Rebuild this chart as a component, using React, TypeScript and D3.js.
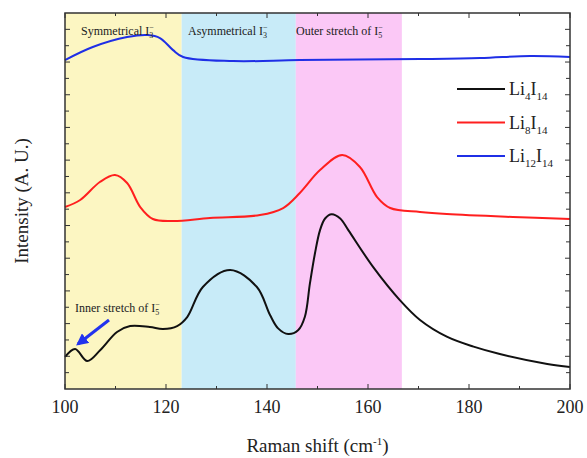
import React from "react";
import * as d3 from "d3";

// Raman spectra (arbitrary intensity units, stacked)
const li4Shift = [100, 102, 104.4, 107, 110.3, 112.9, 116.8, 119.4, 122.2, 124.2, 127.3, 132.7, 138, 140.6, 142.2, 144.2, 146.2, 147.5, 148.5, 149.5, 150.5, 151.5, 152.8, 154.5, 156.1, 161, 166.3, 170.3, 175.6, 180.9, 186.1, 195.5, 200];
const li4Int = [1.96, 2.45, 1.71, 2.39, 3.49, 3.85, 3.79, 3.67, 3.85, 4.4, 6.24, 7.28, 6.24, 4.53, 3.71, 3.36, 3.61, 4.42, 6.46, 8.3, 9.72, 10.43, 10.69, 10.43, 9.72, 7.47, 5.44, 4.22, 3.2, 2.59, 2.14, 1.53, 1.35];

const li8Shift = [100, 103, 106.9, 109.9, 112.3, 114.9, 117.4, 121.4, 128.7, 138.6, 143.2, 146.5, 150.5, 154.9, 158.4, 161.8, 164.4, 170.3, 175.6, 188.7, 200];
const li8Int = [11.13, 11.56, 12.66, 13.09, 12.6, 11.13, 10.4, 10.28, 10.46, 10.64, 11.07, 11.99, 13.39, 14.31, 13.58, 11.74, 11.07, 10.83, 10.7, 10.52, 10.4];

const li12Shift = [100, 105.5, 112.3, 116.4, 118.8, 121.4, 123.4, 133.3, 146.5, 170.3, 182.2, 192.1, 200];
const li12Int = [20.12, 20.92, 21.53, 21.65, 21.47, 20.73, 20.31, 20.06, 20.12, 20.18, 20.24, 20.37, 20.31];

// shaded assignment regions
const bandStart = [100, 123.1, 145.7];
const bandEnd = [123.1, 145.7, 166.7];
const bandColor = ["#fcf6c2", "#c8ebf8", "#fbc8f6"];

const xMajor = [100, 120, 140, 160, 180, 200];
const xMinor = [110, 130, 150, 170, 190];
const yTicks = d3.range(1, 23);

const W = 587;
const H = 458;
const m = { left: 65, right: 17, top: 13, bottom: 69 };

const x = d3.scaleLinear().domain([100, 200]).range([m.left, W - m.right]);
const y = d3.scaleLinear().domain([0, 23]).range([H - m.bottom, m.top]);

const line = d3
  .line<[number, number]>()
  .x((d) => x(d[0]))
  .y((d) => y(d[1]))
  .curve(d3.curveCatmullRom.alpha(0.5));

const series = [
  { name: "4", sub2: "14", xs: li4Shift, ys: li4Int, color: "#111111" },
  { name: "8", sub2: "14", xs: li8Shift, ys: li8Int, color: "#ff1f1f" },
  { name: "12", sub2: "14", xs: li12Shift, ys: li12Int, color: "#1f2fe6" },
];

const serif = "Liberation Serif";

const App = () => {
  const x0 = m.left;
  const x1 = W - m.right;
  const y0 = H - m.bottom;
  const y1 = m.top;

  return (
    <svg
      width={W}
      height={H}
      style={{ position: "absolute", left: 0, top: 0, background: "#fff" }}
      fontFamily={serif}
    >
      <defs>
        <marker id="head" viewBox="0 0 10 10" refX="8" refY="5" markerWidth="4" markerHeight="4" orient="auto">
          <path d="M0,0 L10,5 L0,10 z" fill="#2233ee" />
        </marker>
      </defs>

      {bandStart.map((s, i) => (
        <rect key={i} x={x(s)} y={y1} width={x(bandEnd[i]) - x(s)} height={y0 - y1} fill={bandColor[i]} />
      ))}

      {/* ticks, pointing inward */}
      <g stroke="#333" strokeWidth={1}>
        {xMajor.map((t) => (
          <g key={"M" + t}>
            <line x1={x(t)} x2={x(t)} y1={y0} y2={y0 - 5} />
            <line x1={x(t)} x2={x(t)} y1={y1} y2={y1 + 5} />
          </g>
        ))}
        {xMinor.map((t) => (
          <g key={"m" + t}>
            <line x1={x(t)} x2={x(t)} y1={y0} y2={y0 - 3} />
            <line x1={x(t)} x2={x(t)} y1={y1} y2={y1 + 3} />
          </g>
        ))}
        {yTicks.map((t) => {
          const len = t % 2 === 0 ? 5 : 4;
          return (
            <g key={"y" + t}>
              <line x1={x0} x2={x0 + len} y1={y(t)} y2={y(t)} />
              <line x1={x1} x2={x1 - len} y1={y(t)} y2={y(t)} />
            </g>
          );
        })}
      </g>

      {series.map((s) => (
        <path
          key={s.name}
          d={line(s.xs.map((v, i) => [v, s.ys[i]] as [number, number])) || ""}
          fill="none"
          stroke={s.color}
          strokeWidth={2}
        />
      ))}

      <rect x={x0} y={y1} width={x1 - x0} height={y0 - y1} fill="none" stroke="#333" strokeWidth={1.5} />

      {/* region labels */}
      <g fontSize={12} fill="#222">
        <text x={81} y={35}>
          Symmetrical  I<tspan fontSize={8} dy={3}>3</tspan>
          <tspan fontSize={8} dy={-8} dx={-4}>−</tspan>
        </text>
        <text x={188} y={35}>
          Asymmetrical  I<tspan fontSize={8} dy={3}>3</tspan>
          <tspan fontSize={8} dy={-8} dx={-4}>−</tspan>
        </text>
        <text x={296} y={35}>
          Outer stretch of I<tspan fontSize={8} dy={3}>5</tspan>
          <tspan fontSize={8} dy={-8} dx={-4}>−</tspan>
        </text>
        <text x={75} y={312}>
          Inner stretch of I<tspan fontSize={8} dy={3}>5</tspan>
          <tspan fontSize={8} dy={-8} dx={-4}>−</tspan>
        </text>
      </g>
      <line x1={109} y1={320} x2={78} y2={344} stroke="#2233ee" strokeWidth={3} markerEnd="url(#head)" />

      {/* legend */}
      {series.map((s, i) => {
        const ly = 89 + i * 33.5;
        return (
          <g key={"lg" + s.name}>
            <line x1={457} x2={505} y1={ly} y2={ly} stroke={s.color} strokeWidth={2} />
            <text x={509} y={ly + 6} fontSize={18} fill="#222">
              Li<tspan fontSize={11} dy={5}>{s.name}</tspan>
              <tspan dy={-5}>I</tspan>
              <tspan fontSize={11} dy={5}>{s.sub2}</tspan>
            </text>
          </g>
        );
      })}

      {/* axis labels */}
      {xMajor.map((t) => (
        <text key={"xl" + t} x={x(t)} y={y0 + 24} fontSize={18} textAnchor="middle" fill="#222">
          {t}
        </text>
      ))}
      <text x={(x0 + x1) / 2} y={452} fontSize={19} textAnchor="middle" fill="#222">
        Raman shift (cm<tspan fontSize={11} dy={-7}>-1</tspan>
        <tspan dy={7}>)</tspan>
      </text>
      <text
        transform={`translate(28,${(y0 + y1) / 2}) rotate(-90)`}
        fontSize={19}
        textAnchor="middle"
        fill="#222"
      >
        Intensity (A. U.)
      </text>
    </svg>
  );
};

export default App;
